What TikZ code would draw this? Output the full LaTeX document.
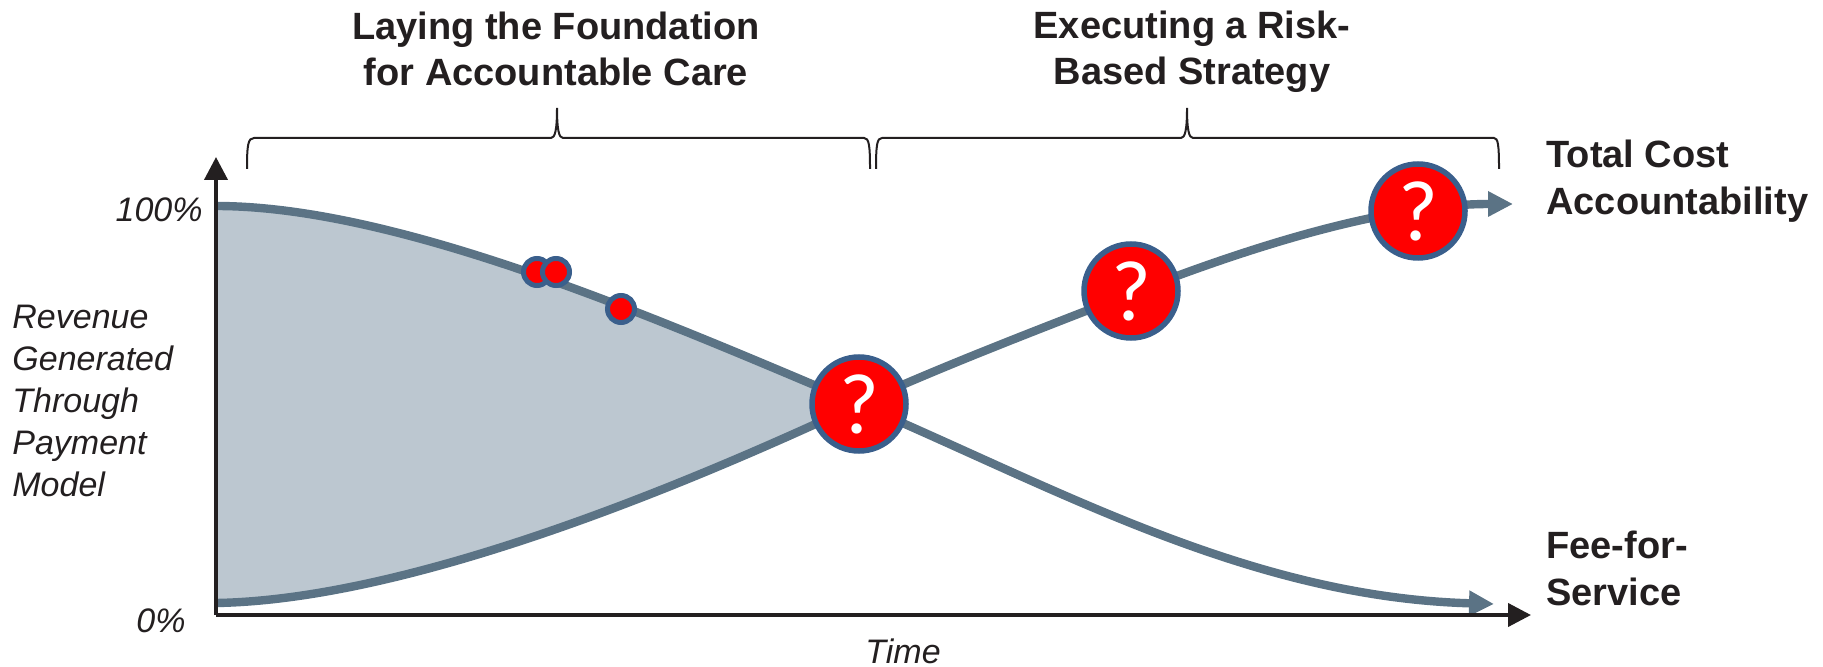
\documentclass[tikz,border=0pt]{standalone}
\usepackage{fontspec}
\usepackage{color}
\usepackage{tikz}
\usetikzlibrary{arrows.meta}
\setmainfont{Liberation Sans}
\newfontfamily\markfont{Carlito}
\definecolor{slateline}{HTML}{5B7385}
\definecolor{slatefill}{HTML}{BCC7D0}
\definecolor{ringblue}{HTML}{3A5F8C}
\definecolor{axisblack}{HTML}{231F20}
\tikzset{
  axisline/.style={line width=2pt,axisblack,-{Triangle[length=11.5pt,width=11.5pt]}},
  trendline/.style={line width=4.2pt,slateline},
  trendarrow/.style={trendline,-{Triangle[length=12.5pt,width=12pt]}},
  bracket/.style={line width=1pt,axisblack},
  bigdot/.style={circle,draw=ringblue,fill=red,line width=2.75pt,minimum size=47pt,inner sep=0pt,text=white,font=\markfont\fontsize{43}{43}\selectfont},
  smalldot/.style={circle,draw=ringblue,fill=red,line width=2.5pt,minimum size=13.5pt,inner sep=0pt},
  title/.style={font=\bfseries\fontsize{19}{23}\selectfont,text=axisblack,align=center},
  endlabel/.style={font=\bfseries\fontsize{19}{23.5}\selectfont,text=axisblack,align=left,anchor=west,inner sep=0pt},
  axislabel/.style={font=\itshape\fontsize{17}{21}\selectfont,text=axisblack,inner sep=0pt},
}
\begin{document}
\begin{tikzpicture}[x=0.5pt,y=-0.5pt]
\useasboundingbox (0,0) rectangle (1823,667);
\coordinate (origin) at(216,615);
\coordinate (ytip) at(216,157);
\coordinate (xtip) at(1531,615);
\coordinate (feestart) at(216,206);
\coordinate (riskstart) at(216,603);
\coordinate (cross) at(859,404);
\coordinate (riskmid) at(1132,293);
\coordinate (feeend) at(1494,604);
\coordinate (riskend) at(1513,204);
%shaded area
\fill[slatefill] (feestart) .. controls (400,206) and (660,320) .. (cross) .. controls (660,497) and (400,600) .. (riskstart) -- cycle;
\draw[trendarrow] (feestart) .. controls (400,206) and (660,320) .. (cross) .. controls (1060,490) and (1250,597) .. (feeend);
\draw[trendarrow] (riskstart) .. controls (400,600) and (660,497) .. (cross) .. controls (950,363) and (1040,329) .. (riskmid) .. controls (1260,243) and (1390,204) .. (riskend);
\draw[axisline] (origin) -- (ytip);
\draw[axisline] (origin) -- (xtip);
%brackets
\coordinate (b1l) at(247,169);
\coordinate (b1m) at(557,108);
\coordinate (b1r) at(870,169);
\coordinate (b2l) at(876,169);
\coordinate (b2m) at(1187,108);
\coordinate (b2r) at(1499,169);
\draw[bracket] (b1l) .. controls (247,145) and (248,138) .. (254,138) -- (551,138) .. controls (555,138) and (557,130) .. (b1m) .. controls (557,130) and (559,138) .. (563,138) -- (864,138) .. controls (869,138) and (870,145) .. (b1r);
\draw[bracket] (b2l) .. controls (876,145) and (877,138) .. (882,138) -- (1181,138) .. controls (1185,138) and (1187,130) .. (b2m) .. controls (1187,130) and (1189,138) .. (1193,138) -- (1494,138) .. controls (1498,138) and (1499,145) .. (b2r);
\node [smalldot] (dota) at(537,272){};
\node [smalldot] (dotb) at(556,272){};
\node [smalldot] (dotc) at(621,309){};
\node [bigdot] (riska) at(cross){?};
\node [bigdot] (riskb) at(1131,291){?};
\node [bigdot] (riskc) at(1418,211){?};
\node [title] (phasea) at(556,49){Laying the Foundation\\for Accountable Care};
\node [title] (phaseb) at(1192,52){Executing a Risk-\\Based Strategy};
\node [endlabel] (total) at(1546,181){Total Cost\\Accountability};
\node [endlabel] (fee) at(1546,568){Fee-for-\\Service};
\node [axislabel,anchor=east] (full) at(203,210){100\%};
\node [axislabel,anchor=east] (none) at(186,621){0\%};
\node [axislabel,anchor=west,align=left] (revenue) at(12,401){Revenue\\Generated\\Through\\Payment\\Model};
\node [axislabel,anchor=base] (time) at(903,663){Time};
\end{tikzpicture}
\end{document}
